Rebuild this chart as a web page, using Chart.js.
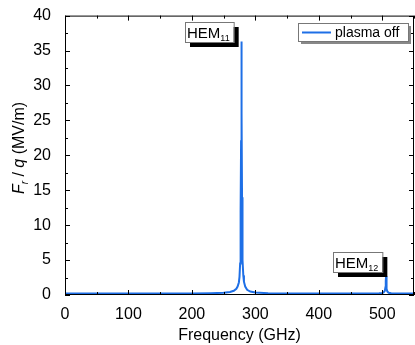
<!DOCTYPE html>
<html>
<head>
<meta charset="utf-8">
<script src="https://cdn.jsdelivr.net/npm/chart.js@4"></script>
<style>
  html, body { margin: 0; padding: 0; background: #fff; }
  #wrap { width: 415px; height: 345px; position: relative; }
</style>
</head>
<body>
<div id="wrap"><canvas id="c" width="415" height="345"></canvas></div>
<script>
// 读图估计的数据 (GHz, MV/m)
const freq = [0, 50, 100, 150, 200, 230, 250, 260, 266, 270, 272, 274, 275, 276, 276.5, 277, 277.5, 278, 278.5, 279, 279.5, 280, 281, 282, 284, 287, 292, 300, 320, 360, 400, 450, 480, 495, 500, 502, 504, 505, 505.5, 506, 506.5, 507, 508, 510, 514, 525, 550];
const field = [0.2, 0.2, 0.2, 0.2, 0.22, 0.26, 0.32, 0.42, 0.6, 0.9, 1.2, 1.8, 2.6, 4.5, 7, 12, 22, 36.3, 26, 14, 8, 5, 2.8, 1.9, 1.2, 0.75, 0.5, 0.36, 0.26, 0.22, 0.2, 0.2, 0.21, 0.25, 0.3, 0.38, 0.6, 1.1, 2.0, 2.7, 1.8, 0.9, 0.5, 0.32, 0.24, 0.21, 0.2];
const xTicks = [0, 100, 200, 300, 400, 500];
const yTicks = [0, 5, 10, 15, 20, 25, 30, 35, 40];
const seriesName = 'plasma off';
const peakLabels = [
  { name: 'HEM', sub: '11', x: 278 },
  { name: 'HEM', sub: '12', x: 506 }
];

const FONT = 'Liberation Sans, Arial, sans-serif';
const BLUE = '#1e6fe6';

// 边框、内向刻度、标注
const decorations = {
  id: 'decorations',
  afterDraw(chart) {
    const ctx = chart.ctx;
    const a = chart.chartArea;
    const xs = chart.scales.x, ys = chart.scales.y;
    ctx.save();
    ctx.strokeStyle = '#000';
    ctx.lineWidth = 1;
    ctx.strokeRect(a.left + 0.5, a.top + 0.5, a.right - a.left - 1, a.bottom - a.top - 1);
    ctx.beginPath();
    for (let v = 0; v <= 550; v += 50) {
      const px = Math.round(xs.getPixelForValue(v)) + 0.5;
      const len = v % 100 === 0 ? 5 : 3;
      ctx.moveTo(px, a.bottom); ctx.lineTo(px, a.bottom - len);
      ctx.moveTo(px, a.top); ctx.lineTo(px, a.top + len);
    }
    for (let v = 0; v <= 40; v += 2.5) {
      const py = Math.round(ys.getPixelForValue(v)) + 0.5;
      const len = v % 5 === 0 ? 5 : 3;
      ctx.moveTo(a.left, py); ctx.lineTo(a.left + len, py);
      ctx.moveTo(a.right, py); ctx.lineTo(a.right - len, py);
    }
    ctx.stroke();

    // y 轴标题: F_r / q (MV/m)
    ctx.translate(20, 148);
    ctx.rotate(-Math.PI / 2);
    ctx.fillStyle = '#000';
    ctx.textBaseline = 'middle';
    const parts = [
      { t: 'F', f: 'italic 16px ' + FONT, dy: 0 },
      { t: 'r', f: 'italic 10px ' + FONT, dy: 5 },
      { t: ' / ', f: '16px ' + FONT, dy: 0 },
      { t: 'q', f: 'italic 16px ' + FONT, dy: 0 },
      { t: ' (MV/m)', f: '16px ' + FONT, dy: 0 }
    ];
    let total = 0;
    parts.forEach(p => { ctx.font = p.f; total += ctx.measureText(p.t).width; });
    let cx = -total / 2;
    parts.forEach(p => {
      ctx.font = p.f;
      ctx.fillText(p.t, cx, p.dy);
      cx += ctx.measureText(p.t).width;
    });
    ctx.restore();

    // 峰值标注
    ctx.save();
    const boxes = [
      { lab: peakLabels[0], left: 185, top: 22 },
      { lab: peakLabels[1], left: 333, top: 252 }
    ];
    boxes.forEach(b => {
      ctx.font = '15px ' + FONT;
      const w1 = ctx.measureText(b.lab.name).width;
      ctx.font = '9px ' + FONT;
      const w2 = ctx.measureText(b.lab.sub).width;
      const w = w1 + w2 + 6, h = 20;
      ctx.fillStyle = '#000';
      ctx.fillRect(b.left + 5, b.top + 5, w, h);
      ctx.fillStyle = '#fff';
      ctx.fillRect(b.left, b.top, w, h);
      ctx.strokeStyle = '#777';
      ctx.strokeRect(b.left + 0.5, b.top + 0.5, w, h);
      ctx.fillStyle = '#000';
      ctx.textBaseline = 'alphabetic';
      ctx.font = '15px ' + FONT;
      ctx.fillText(b.lab.name, b.left + 2, b.top + 16);
      ctx.font = '9px ' + FONT;
      ctx.fillText(b.lab.sub, b.left + 2 + w1, b.top + 19);
    });

    // 图例
    const lx = 298, ly = 23, lw = 110, lh = 18;
    ctx.fillStyle = '#888';
    ctx.fillRect(lx + 3, ly + 3, lw, lh);
    ctx.fillStyle = '#fff';
    ctx.fillRect(lx, ly, lw, lh);
    ctx.strokeStyle = '#777';
    ctx.strokeRect(lx + 0.5, ly + 0.5, lw, lh);
    ctx.strokeStyle = BLUE;
    ctx.lineWidth = 2;
    ctx.beginPath();
    ctx.moveTo(lx + 4, ly + 9.5); ctx.lineTo(lx + 33, ly + 9.5);
    ctx.stroke();
    ctx.fillStyle = '#000';
    ctx.font = '14px ' + FONT;
    ctx.textBaseline = 'middle';
    ctx.fillText(seriesName, lx + 37, ly + 10);
    ctx.restore();
  }
};

new Chart(document.getElementById('c'), {
  type: 'line',
  data: {
    datasets: [{
      label: seriesName,
      data: freq.map((f, i) => ({ x: f, y: field[i] })),
      borderColor: BLUE,
      borderWidth: 2,
      pointRadius: 0,
      tension: 0,
      fill: false
    }]
  },
  options: {
    responsive: false,
    animation: false,
    layout: { padding: { top: 15, right: 1, left: 0, bottom: 0 } },
    plugins: { legend: { display: false }, tooltip: { enabled: false } },
    scales: {
      x: {
        type: 'linear', min: 0, max: 550,
        afterBuildTicks: s => { s.ticks = xTicks.map(v => ({ value: v })); },
        afterFit: s => { s.height = 50; },
        grid: { display: false },
        border: { display: false },
        ticks: { color: '#000', font: { family: FONT, size: 16 }, padding: 2, maxRotation: 0 },
        title: { display: true, text: 'Frequency (GHz)', color: '#000', font: { family: FONT, size: 16 }, padding: { top: 4, bottom: 0 } }
      },
      y: {
        type: 'linear', min: 0, max: 40,
        afterBuildTicks: s => { s.ticks = yTicks.map(v => ({ value: v })); },
        afterFit: s => { s.width = 65; },
        grid: { display: false },
        border: { display: false },
        ticks: { color: '#000', font: { family: FONT, size: 16 }, padding: 6 }
      }
    }
  },
  plugins: [decorations]
});
</script>
</body>
</html>
